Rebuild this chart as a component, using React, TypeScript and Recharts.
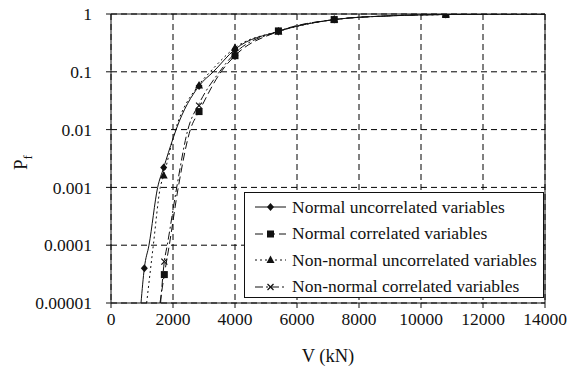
import React from 'react';
import { LineChart, Line, XAxis, YAxis, CartesianGrid, ReferenceLine } from 'recharts';

// V (kN) values and failure probability
const nuCurveV = [968, 1075, 1225, 1505, 1700, 2000, 2100, 2840, 3300, 4000, 5400, 7200, 9000, 10800, 12000, 14000];
const nuCurveP = [0.00001, 0.00004, 0.0001, 0.001, 0.0022, 0.007, 0.01, 0.057, 0.1, 0.245, 0.5, 0.8, 0.93, 0.98, 0.996, 1];
const nuMarkV = [1075, 1700, 2840, 4000, 5400, 7200, 10800];
const nuMarkP = [0.00004, 0.0022, 0.057, 0.245, 0.5, 0.8, 0.98];

const ncCurveV = [1580, 1720, 1880, 2170, 2560, 2840, 3550, 4000, 5400, 7200, 9000, 10800, 12000, 14000];
const ncCurveP = [0.00001, 0.000031, 0.0001, 0.001, 0.01, 0.0205, 0.1, 0.19, 0.5, 0.8, 0.93, 0.98, 0.996, 1];
const ncMarkV = [1720, 2840, 4000, 5400, 7200, 10800];
const ncMarkP = [0.000031, 0.0205, 0.19, 0.51, 0.8, 0.98];

const nnuCurveV = [1150, 1365, 1590, 1700, 2080, 2840, 3200, 4000, 5400, 7200, 9000, 10800, 12000, 14000];
const nnuCurveP = [0.00001, 0.0001, 0.001, 0.0016, 0.01, 0.06, 0.1, 0.26, 0.5, 0.8, 0.93, 0.98, 0.996, 1];
const nnuMarkV = [1700, 2840, 4000, 5400, 7200, 10800];
const nnuMarkP = [0.0016, 0.058, 0.26, 0.5, 0.8, 0.98];

const nncCurveV = [1600, 1720, 1815, 2120, 2480, 2840, 3500, 4000, 5400, 7200, 9000, 10800, 12000, 14000];
const nncCurveP = [0.00001, 0.000052, 0.0001, 0.001, 0.01, 0.028, 0.1, 0.21, 0.5, 0.8, 0.93, 0.98, 0.996, 1];
const nncMarkV = [1720, 2840, 4000, 5400, 7200, 10800];
const nncMarkP = [0.000052, 0.026, 0.21, 0.5, 0.8, 0.98];

const xTicks = [0, 2000, 4000, 6000, 8000, 10000, 12000, 14000];
const yTicks = [0.00001, 0.0001, 0.001, 0.01, 0.1, 1];
const yTickLabels = ['0.00001', '0.0001', '0.001', '0.01', '0.1', '1'];

const seriesNames = [
  'Normal uncorrelated variables',
  'Normal correlated variables',
  'Non-normal uncorrelated variables',
  'Non-normal correlated variables',
];

const zip = (v: number[], p: number[]) => v.map((x, i) => ({ v: x, p: p[i] }));

const INK = '#111';
const FONT = '"Liberation Serif", "DejaVu Serif", serif';
const dashes = [undefined, '8 4', '2 3', '8 3 2 3'];

type Shape = 'diamond' | 'square' | 'triangle' | 'cross';
const shapes: Shape[] = ['diamond', 'square', 'triangle', 'cross'];

const Marker = ({ cx, cy, shape }: { cx: number; cy: number; shape: Shape }) => {
  if (cx == null || cy == null || isNaN(cx) || isNaN(cy)) return null;
  if (shape === 'diamond')
    return <polygon points={`${cx},${cy - 4} ${cx + 3.5},${cy} ${cx},${cy + 4} ${cx - 3.5},${cy}`} fill={INK} />;
  if (shape === 'square') return <rect x={cx - 3.5} y={cy - 3.5} width={7} height={7} fill={INK} />;
  if (shape === 'triangle')
    return <polygon points={`${cx},${cy - 4.5} ${cx + 4},${cy + 3} ${cx - 4},${cy + 3}`} fill={INK} />;
  return (
    <g stroke={INK} strokeWidth={1.2}>
      <line x1={cx - 3} y1={cy - 3} x2={cx + 3} y2={cy + 3} />
      <line x1={cx - 3} y1={cy + 3} x2={cx + 3} y2={cy - 3} />
    </g>
  );
};

const curves = [zip(nuCurveV, nuCurveP), zip(ncCurveV, ncCurveP), zip(nnuCurveV, nnuCurveP), zip(nncCurveV, nncCurveP)];
const marks = [zip(nuMarkV, nuMarkP), zip(ncMarkV, ncMarkP), zip(nnuMarkV, nnuMarkP), zip(nncMarkV, nncMarkP)];

const LegendBox = () => (
  <div
    style={{
      position: 'absolute',
      left: 244,
      top: 192,
      background: '#fff',
      border: `1px solid ${INK}`,
      boxSizing: 'border-box',
      width: 300,
      height: 106,
      paddingTop: 1,
      fontFamily: FONT,
      fontSize: 17.5,
      color: INK,
    }}
  >
    {seriesNames.map((name, i) => (
      <div key={name} style={{ display: 'flex', alignItems: 'center', height: 26.5 }}>
        <svg width={47} height={12} style={{ flex: 'none' }}>
          <line x1={10} y1={6} x2={41} y2={6} stroke={INK} strokeWidth={1} strokeDasharray={dashes[i]} />
          <Marker cx={25.5} cy={6} shape={shapes[i]} />
        </svg>
        <span style={{ whiteSpace: 'nowrap' }}>{name}</span>
      </div>
    ))}
  </div>
);

export default function App() {
  return (
    <div style={{ position: 'absolute', left: 0, top: 0, width: 580, height: 369, background: '#fff' }}>
      <LineChart width={580} height={369} margin={{ top: 14, right: 35, bottom: 16, left: 0 }}>
        <CartesianGrid stroke="#000" strokeDasharray="6 4" strokeWidth={1} />
        <XAxis
          dataKey="v"
          type="number"
          domain={[0, 14000]}
          ticks={xTicks}
          allowDataOverflow
          height={50}
          tickSize={5}
          tickMargin={5}
          stroke={INK}
          tick={{ fill: INK, fontFamily: FONT, fontSize: 17.5 }}
          label={{
            content: ({ viewBox }: any) => (
              <text x={viewBox.x + viewBox.width / 2} y={362} textAnchor="middle" fill={INK} fontFamily={FONT} fontSize={18.5}>
                V (kN)
              </text>
            ),
          }}
        />
        <YAxis
          dataKey="p"
          type="number"
          scale="log"
          domain={[0.00001, 1]}
          ticks={yTicks}
          allowDataOverflow
          width={111}
          tickSize={5}
          tickMargin={14}
          stroke={INK}
          tickFormatter={(val: number) => yTickLabels[yTicks.findIndex((t) => Math.abs(t - val) < t * 1e-6)] ?? String(val)}
          tick={{ fill: INK, fontFamily: FONT, fontSize: 17.5 }}
          label={{
            content: () => (
              <text transform="translate(27,170) rotate(-90)" fill={INK} fontFamily={FONT} fontSize={19}>
                P<tspan fontSize={13} dy={5}>f</tspan>
              </text>
            ),
          }}
        />
        <ReferenceLine y={1} stroke={INK} strokeWidth={1} />
        <ReferenceLine x={14000} stroke={INK} strokeWidth={1} />
        {curves.map((data, i) => (
          <Line
            key={`curve-${i}`}
            data={data}
            dataKey="p"
            type="monotone"
            stroke={INK}
            strokeWidth={1}
            strokeDasharray={dashes[i]}
            dot={false}
            activeDot={false}
            legendType="none"
            isAnimationActive={false}
          />
        ))}
        {marks.map((data, i) => (
          <Line
            key={`marks-${i}`}
            data={data}
            dataKey="p"
            stroke="none"
            dot={(props: any) => <Marker key={`m-${i}-${props.index}`} cx={props.cx} cy={props.cy} shape={shapes[i]} />}
            activeDot={false}
            legendType="none"
            isAnimationActive={false}
          />
        ))}
      </LineChart>
      <LegendBox />
    </div>
  );
}
